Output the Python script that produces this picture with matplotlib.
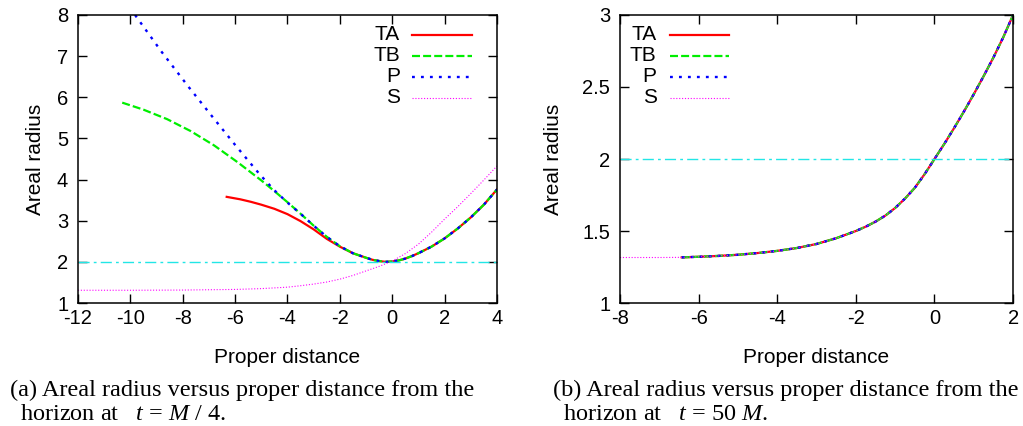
import numpy as np
import matplotlib
matplotlib.use("Agg")
import matplotlib.pyplot as plt

plt.rcParams.update({"font.family": "Liberation Sans", "font.size": 14.5,
                     "axes.unicode_minus": False,
                     "mathtext.fontset": "custom", "mathtext.it": "Liberation Serif:italic",
                     "mathtext.rm": "Liberation Serif"})

# ---- panel (a): t = M/4 ----
ta_x = [-6.32, -5.8, -5.4, -5.0, -4.5, -4.0, -3.5, -3.0, -2.5, -2.0, -1.5, -1.0, -0.75, -0.5,
        -0.25, 0.0, 0.25, 0.5, 0.75, 1.0, 1.5, 2.0, 2.5, 3.0, 3.5, 4.0]
ta_y = [3.58, 3.52, 3.46, 3.39, 3.29, 3.16, 2.99, 2.79, 2.56, 2.37, 2.21, 2.10, 2.05, 2.02,
        2.0, 2.01, 2.035, 2.08, 2.14, 2.21, 2.37, 2.57, 2.81, 3.08, 3.39, 3.76]
tb_x = [-10.31, -9.5, -8.6, -7.7, -6.8, -5.9, -5.0, -4.5, -4.0, -3.5, -3.0, -2.5, -2.0, -1.5,
        -1.0, -0.75, -0.5, -0.25, 0.0, 0.25, 0.5, 0.75, 1.0, 1.5, 2.0, 2.5, 3.0, 3.5, 4.0]
tb_y = [5.87, 5.70, 5.47, 5.18, 4.83, 4.42, 3.98, 3.72, 3.45, 3.17, 2.88, 2.61, 2.38, 2.21,
        2.10, 2.05, 2.02, 2.0, 2.01, 2.035, 2.08, 2.14, 2.21, 2.37, 2.57, 2.81, 3.08, 3.39, 3.76]
p_x = [-9.82, -8.8, -7.76, -6.87, -5.97, -5.05, -4.5, -4.0, -3.5, -3.0, -2.5, -2.0, -1.5,
       -1.0, -0.75, -0.5, -0.25, 0.0, 0.25, 0.5, 0.75, 1.0, 1.5, 2.0, 2.5, 3.0, 3.5, 4.0]
p_y = [8.0, 7.1, 6.24, 5.53, 4.82, 4.12, 3.74, 3.44, 3.17, 2.88, 2.61, 2.38, 2.21,
       2.10, 2.05, 2.02, 2.0, 2.01, 2.035, 2.08, 2.14, 2.21, 2.37, 2.57, 2.81, 3.08, 3.39, 3.76]
s_x = [-12, -10, -8, -6, -5, -4, -3.5, -3, -2.5, -2, -1.5, -1, -0.5, 0.0, 0.5, 1.0, 1.5, 2.0,
       2.5, 3.0, 3.5, 4.0]
s_y = [1.31, 1.31, 1.315, 1.33, 1.35, 1.385, 1.42, 1.46, 1.51, 1.58, 1.67, 1.78, 1.89, 2.02,
       2.2, 2.43, 2.72, 3.04, 3.34, 3.66, 3.99, 4.33]

# ---- panel (b): t = 50 M (all slicings coincide) ----
b_x = [-6.43, -6.0, -5.5, -5.0, -4.5, -4.0, -3.5, -3.0, -2.5, -2.0, -1.75, -1.5, -1.25, -1.0,
       -0.75, -0.5, -0.25, 0.0, 0.25, 0.5, 0.75, 1.0, 1.25, 1.5, 1.75, 2.0]
b_y = [1.317, 1.321, 1.327, 1.335, 1.347, 1.362, 1.382, 1.41, 1.45, 1.50, 1.53, 1.565, 1.607,
       1.66, 1.725, 1.80, 1.895, 2.0, 2.105, 2.215, 2.33, 2.45, 2.575, 2.705, 2.845, 3.0]
bs_x = [-8.0, -7.0] + b_x
bs_y = [1.316, 1.316] + b_y

HORIZON = 2.0
NAMES = ["TA", "TB", "P", "S"]
STY = [dict(color="#ff0000", lw=1.6, ls="-"),
       dict(color="#00ee00", lw=1.6, dashes=(3.6, 1.4)),
       dict(color="#0000ff", lw=1.7, dashes=(1.2, 2.6)),
       dict(color="#ff00ff", lw=0.8, dashes=(1.0, 1.6))]
CYAN = dict(color="#22e6e6", lw=1.0, dashes=(8, 3, 2, 3))


def style_ax(ax):
    ax.tick_params(direction="in", length=6.5, width=1, top=True, right=True)
    ax.tick_params(axis="x", pad=4)
    ax.tick_params(axis="y", pad=7)
    for s in ax.spines.values():
        s.set_linewidth(1.1)
    ax.set_xlabel("Proper distance", fontsize=15)
    ax.set_ylabel("Areal radius", fontsize=15)


def key(ax, xt, x0, x1):
    for i, (n, st) in enumerate(zip(NAMES, STY)):
        yy = 0.932 - 0.073 * i
        ax.text(xt, yy, n, transform=ax.transAxes, ha="right", va="center", fontsize=15)
        ax.plot([x0, x1], [yy, yy], transform=ax.transAxes, **st)


fig = plt.figure(figsize=(10.23, 4.26), dpi=100)
axa = fig.add_axes([0.0762, 0.2887, 0.4096, 0.6761])
axb = fig.add_axes([0.6061, 0.2887, 0.3842, 0.6761])

for xs, ys, st in zip([ta_x, tb_x, p_x, s_x], [ta_y, tb_y, p_y, s_y], STY):
    axa.plot(xs, ys, **st)
axa.axhline(HORIZON, **CYAN)
axa.set_xlim(-12, 4); axa.set_ylim(1, 8)
axa.set_xticks(range(-12, 5, 2)); axa.set_yticks(range(1, 9))
style_ax(axa)
axa.xaxis.set_label_coords(0.5, -0.155)
axa.yaxis.set_label_coords(-0.078, 0.5)
key(axa, 0.768, 0.797, 0.940)

for xs, ys, st in zip([b_x, b_x, b_x, bs_x], [b_y, b_y, b_y, bs_y], STY):
    axb.plot(xs, ys, **st)
axb.axhline(HORIZON, **CYAN)
axb.set_xlim(-8, 2); axb.set_ylim(1, 3)
axb.set_xticks(range(-8, 3, 2)); axb.set_yticks([1, 1.5, 2, 2.5, 3])
axb.set_yticklabels(["1", "1.5", "2", "2.5", "3"])
style_ax(axb)
axb.xaxis.set_label_coords(0.5, -0.155)
axb.yaxis.set_label_coords(-0.145, 0.5)
key(axb, 0.0934, 0.127, 0.277)

cap = dict(family="Liberation Serif", fontsize=17.5, va="center", ha="left")
fig.text(10 / 1023, 1 - 390 / 426, "(a) Areal radius versus proper distance from the", **cap)
fig.text(20 / 1023, 1 - 415 / 426, r"horizon at   $t$ = $M$ / 4.", **cap)
fig.text(553 / 1023, 1 - 390 / 426, "(b) Areal radius versus proper distance from the", **cap)
fig.text(563 / 1023, 1 - 415 / 426, r"horizon at   $t$ = 50 $M$.", **cap)

fig.savefig("out.png", dpi=100)
